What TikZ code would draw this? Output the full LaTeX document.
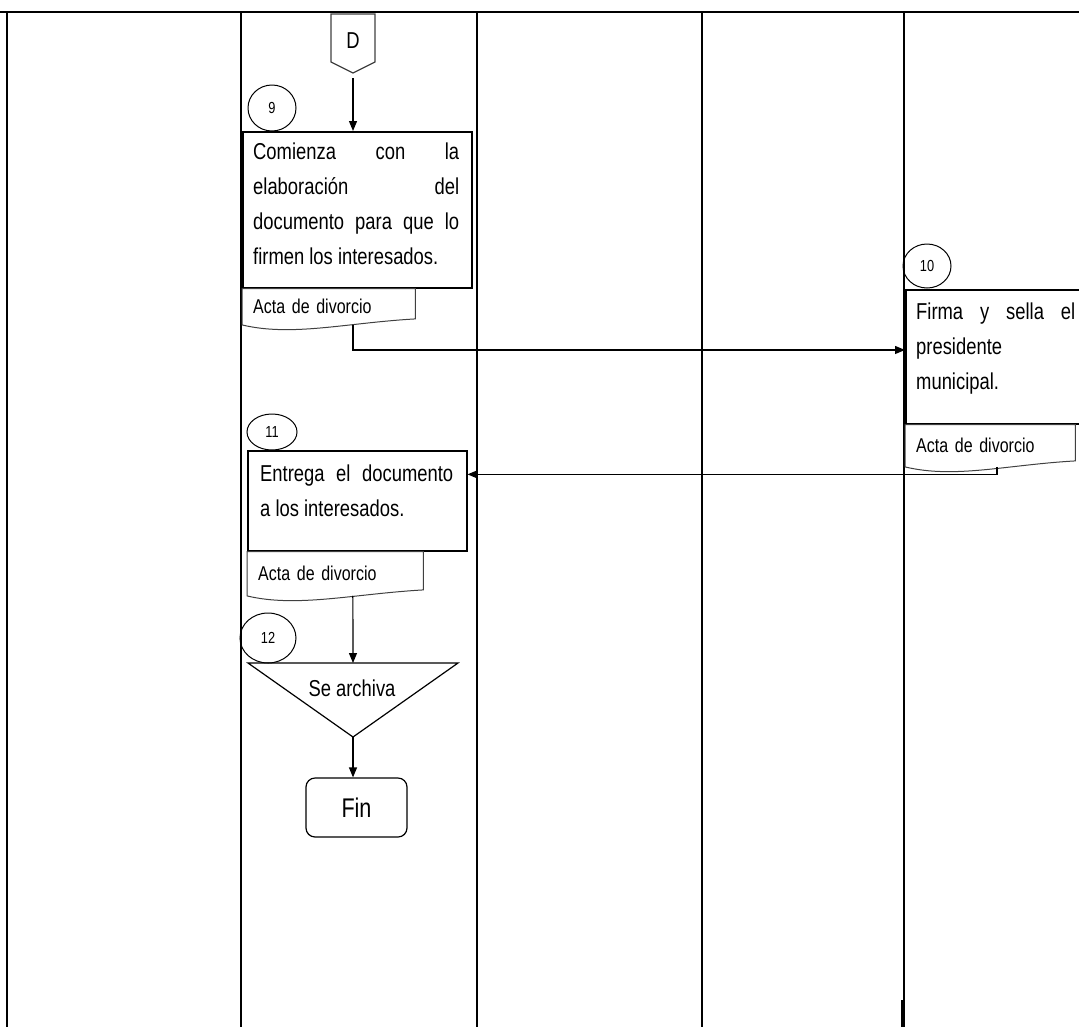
\documentclass[tikz,border=0pt]{standalone}
\usepackage{fontspec}
\setmainfont{Liberation Sans}[FakeStretch=0.8]
\usetikzlibrary{arrows.meta,calc,shapes.geometric}
\tolerance=10000
\hyphenpenalty=10000
\tikzset{
  lane/.style={line width=1.3pt},
  box/.style={draw, line width=1.5pt, inner sep=0pt, anchor=north west},
  txt/.style={inner sep=0pt, anchor=north west, align=justify,
    font=\fontsize{23}{35}\selectfont},
  doc/.style={inner xsep=11pt, inner ysep=0pt, anchor=north west, text width=#1,
    font=\fontsize{20}{24}\selectfont},
  docline/.style={draw=black!75, line width=1pt},
  num/.style={draw, ellipse, line width=1pt, inner sep=0pt, font=\fontsize{16}{18}\selectfont},
  flow/.style={line width=1.2pt, -{Triangle[length=10pt,width=8pt]}},
  finbox/.style={draw, line width=1.2pt, rounded corners=9pt, minimum width=101pt,
    minimum height=59pt, font=\fontsize{27}{30}\selectfont}
}
\newcommand{\docshape}[1]{\draw[docline] (#1.north west) -- (#1.north east) -- ([yshift=6pt]#1.south east) .. controls +(-70,-4) and +(50,-12) .. (#1.south west) -- cycle;}

\begin{document}
\begin{tikzpicture}[x=1pt,y=1pt]
			%%%%% START %%%%%
			\useasboundingbox (0,0) rectangle (1079,-1026);

			% lanes
			\draw[line width=2.5pt] (-5,-12) -- (1085,-12);
			\foreach \x in {7,241,477,702,904}
				\draw[lane] (\x,-12) -- (\x,-1030);
			\draw[line width=3pt] (902,-1000) -- (902,-1030);

			% off-page connector D
			\draw[line width=1.2pt, black!75] (331,-14) -- (375,-14) -- (375,-62) -- (353,-73) -- (331,-62) -- cycle;
			\coordinate (dtip) at (353,-73);
			\node[font=\fontsize{23}{26}\selectfont] (offD) at (353,-41) {D};

			% step 9
			\node[box, minimum width=229pt, minimum height=156pt] (b9) at (242,-131) {};
			\node[txt, text width=206pt] (t9) at ([xshift=11pt,yshift=-12pt]b9.north west)
				{Comienza con la\break elaboración del\break documento para que lo\break firmen los interesados.};
			\node[num, minimum width=48pt, minimum height=46pt] (c9) at (272,-108) {9};
			\node[doc=151pt, minimum height=36pt] (d9) at (b9.south west) {Acta de divorcio};
			\docshape{d9}
			\draw[flow] ([yshift=-5pt]dtip) -- (dtip |- b9.north);

			% step 10
			\node[box, minimum width=200pt, minimum height=134pt] (b10) at (905,-289) {};
			\node[txt, text width=159pt] (t10) at ([xshift=11pt,yshift=-14pt]b10.north west)
				{Firma y sella el\break presidente\break municipal.};
			\node[num, minimum width=48pt, minimum height=44pt] (c10) at (927,-266) {10};
			\node[doc=148pt, minimum height=42pt] (d10) at (b10.south west) {Acta de divorcio};
			\docshape{d10}
			\draw[flow] ($(d9.south west)!0.64!(d9.south east)$) |- ($(b10.north west)!0.45!(b10.south west)$);

			% step 11
			\node[box, minimum width=219pt, minimum height=100pt] (b11) at (247,-450) {};
			\node[txt, text width=193pt] (t11) at ([xshift=13pt,yshift=-15pt]b11.north west)
				{Entrega el documento\break a los interesados.};
			\node[num, minimum width=50pt, minimum height=36pt] (c11) at (272,-432) {11};
			\node[doc=154pt, minimum height=44pt] (d11) at (b11.south west) {Acta de divorcio};
			\docshape{d11}
			\draw[flow] ($(d10.south west)!0.54!(d10.south east)$) |- ($(b11.north east)!0.24!(b11.south east)$);

			% step 12
			\coordinate (t12l) at (248,-663);
			\coordinate (t12r) at (458,-663);
			\coordinate (t12t) at (353,-663);
			\coordinate (t12b) at (353,-737);
			\draw[line width=1.2pt] (t12l) -- (t12r) -- (t12b) -- cycle;
			\node[font=\fontsize{23}{26}\selectfont] (arch) at (352,-688) {Se archiva};
			\node[num, minimum width=56pt, minimum height=50pt] (c12) at (268,-638) {12};
			\draw[flow] ($(d11.south west)!0.6!(d11.south east)$) -- (t12t);

			% end
			\node[finbox] (fin) at (356.5,-807.5) {Fin};
			\draw[flow] (t12b) -- (t12b |- fin.north);

			%%%%% END %%%%%
\end{tikzpicture}
\end{document}
